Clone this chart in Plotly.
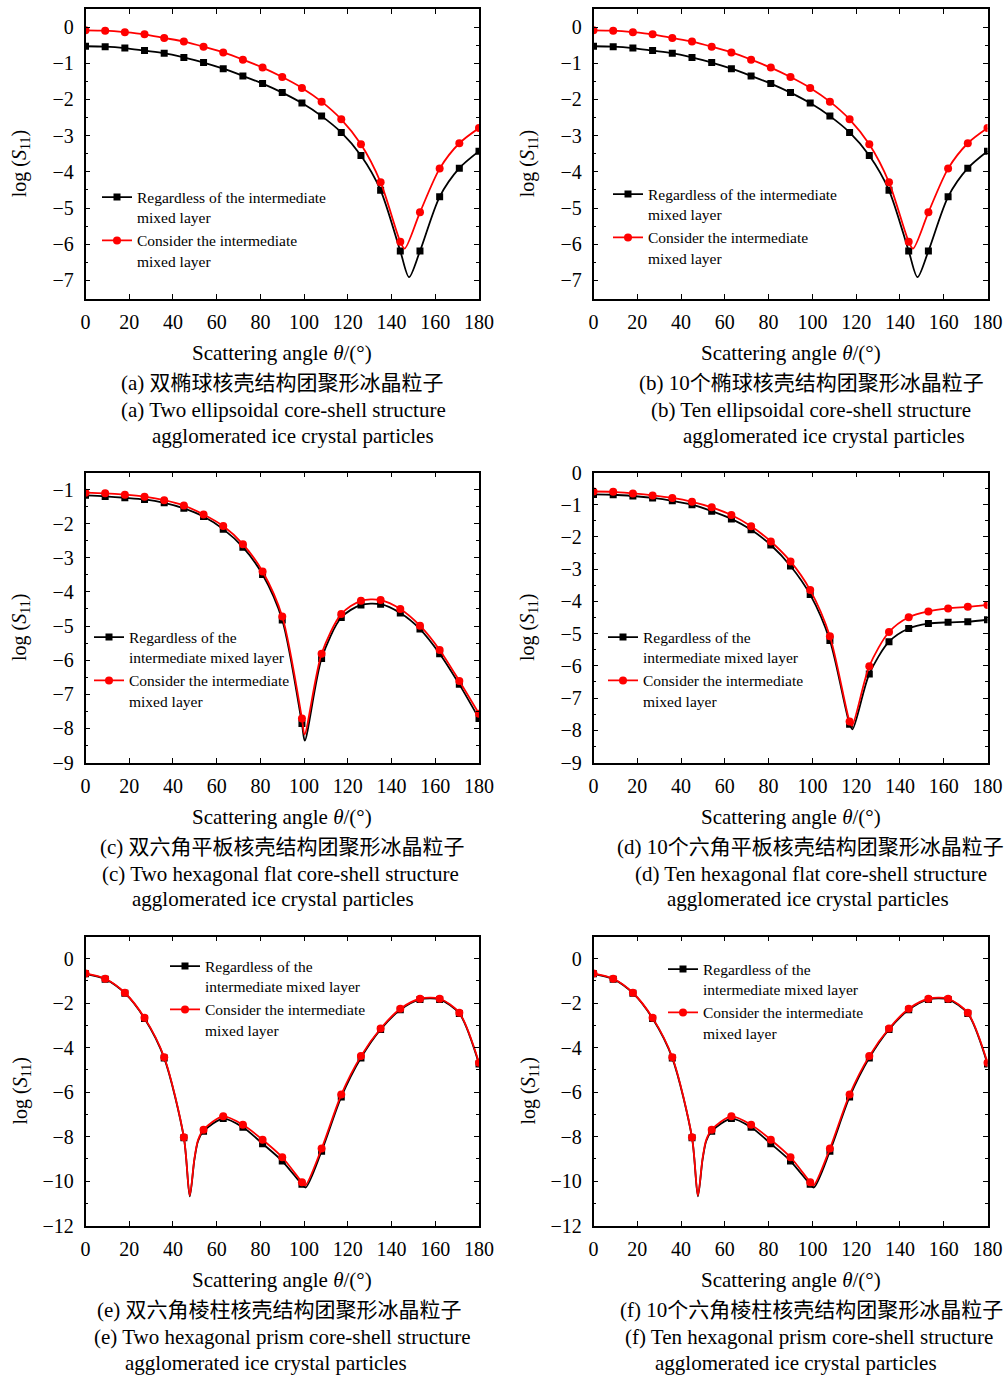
import plotly.graph_objects as go

W, H = 1008, 1381

# ---------------- data ----------------
ANGLES = [0, 9, 18, 27, 36, 45, 54, 63, 72, 81, 90, 99, 108, 117, 126, 135, 144, 153, 162, 171, 180]
X_TICKS = [0, 20, 40, 60, 80, 100, 120, 140, 160, 180]

# (a) two ellipsoidal
black_a = [-0.53, -0.54, -0.58, -0.65, -0.72, -0.84, -0.98, -1.15, -1.35, -1.56, -1.81,
           -2.10, -2.46, -2.91, -3.55, -4.51, -6.19, -6.19, -4.69, -3.90, -3.43]
red_a = [-0.09, -0.10, -0.14, -0.20, -0.30, -0.40, -0.54, -0.70, -0.90, -1.12, -1.38,
         -1.68, -2.06, -2.55, -3.24, -4.29, -5.93, -5.12, -3.91, -3.21, -2.79]
black_a_dip_x, black_a_dip_y = [148.0], [-6.91]
red_a_dip_x, red_a_dip_y = [146.0], [-6.12]

# (b) ten ellipsoidal
black_b = [-0.53, -0.54, -0.58, -0.65, -0.72, -0.84, -0.98, -1.15, -1.35, -1.56, -1.81,
           -2.10, -2.46, -2.91, -3.55, -4.51, -6.19, -6.19, -4.69, -3.90, -3.43]
red_b = [-0.09, -0.10, -0.14, -0.20, -0.30, -0.40, -0.54, -0.70, -0.90, -1.12, -1.38,
         -1.68, -2.06, -2.55, -3.24, -4.29, -5.93, -5.12, -3.91, -3.21, -2.79]
black_b_dip_x, black_b_dip_y = [148.0], [-6.91]
red_b_dip_x, red_b_dip_y = [146.0], [-6.12]

# (c) two hexagonal flat
black_c = [-1.17, -1.20, -1.24, -1.29, -1.39, -1.55, -1.79, -2.16, -2.69, -3.49, -4.82,
           -7.86, -5.95, -4.75, -4.38, -4.36, -4.62, -5.09, -5.81, -6.71, -7.71]
red_c = [-1.09, -1.11, -1.15, -1.21, -1.31, -1.47, -1.73, -2.07, -2.60, -3.40, -4.72,
         -7.71, -5.81, -4.65, -4.26, -4.24, -4.50, -4.99, -5.70, -6.61, -7.57]
black_c_dip_x, black_c_dip_y = [100.3], [-8.36]
red_c_dip_x, red_c_dip_y = [100.2], [-8.18]

# (d) ten hexagonal flat
black_d = [-0.68, -0.69, -0.73, -0.79, -0.88, -1.00, -1.20, -1.44, -1.78, -2.25, -2.90,
           -3.79, -5.21, -7.81, -6.25, -5.25, -4.84, -4.69, -4.65, -4.63, -4.57]
red_d = [-0.59, -0.60, -0.65, -0.71, -0.79, -0.91, -1.08, -1.32, -1.67, -2.14, -2.76,
         -3.65, -5.08, -7.73, -6.01, -4.95, -4.49, -4.31, -4.22, -4.17, -4.11]
black_d_dip_x, black_d_dip_y = [118.3], [-7.97]
red_d_dip_x, red_d_dip_y = [118.1], [-7.86]

# (e) two hexagonal prism
black_e = [-0.68, -0.92, -1.55, -2.69, -4.47, -8.05, -7.76, -7.19, -7.58, -8.32, -9.10,
           -10.15, -8.66, -6.22, -4.46, -3.18, -2.30, -1.83, -1.83, -2.46, -4.73]
red_e = [-0.66, -0.90, -1.53, -2.66, -4.43, -8.03, -7.69, -7.09, -7.47, -8.14, -8.93,
         -10.05, -8.54, -6.11, -4.38, -3.14, -2.25, -1.80, -1.80, -2.43, -4.68]
black_e_dip_x, black_e_dip_y = [47.7, 49.8, 51.5, 100.7], [-10.69, -9.05, -8.2, -10.29]
red_e_dip_x, red_e_dip_y = [47.7, 49.8, 51.5, 100.5], [-10.65, -9.0, -8.15, -10.2]

# (f) ten hexagonal prism
black_f = [-0.68, -0.92, -1.55, -2.69, -4.47, -8.05, -7.76, -7.19, -7.58, -8.32, -9.10,
           -10.15, -8.66, -6.22, -4.46, -3.18, -2.30, -1.83, -1.83, -2.46, -4.73]
red_f = [-0.66, -0.90, -1.53, -2.66, -4.43, -8.03, -7.69, -7.09, -7.47, -8.14, -8.93,
         -10.05, -8.54, -6.11, -4.38, -3.14, -2.25, -1.80, -1.80, -2.43, -4.68]
black_f_dip_x, black_f_dip_y = [47.7, 49.8, 51.5, 100.7], [-10.69, -9.05, -8.2, -10.29]
red_f_dip_x, red_f_dip_y = [47.7, 49.8, 51.5, 100.5], [-10.65, -9.0, -8.15, -10.2]

CAPTIONS_CN = ["(a) 双椭球核壳结构团聚形冰晶粒子", "(b) 10个椭球核壳结构团聚形冰晶粒子",
               "(c) 双六角平板核壳结构团聚形冰晶粒子", "(d) 10个六角平板核壳结构团聚形冰晶粒子",
               "(e) 双六角棱柱核壳结构团聚形冰晶粒子", "(f) 10个六角棱柱核壳结构团聚形冰晶粒子"]
CAPTIONS_EN1 = ["(a) Two ellipsoidal core-shell structure", "(b) Ten ellipsoidal core-shell structure",
                "(c) Two hexagonal flat core-shell structure", "(d) Ten hexagonal flat core-shell structure",
                "(e) Two hexagonal prism core-shell structure", "(f) Ten hexagonal prism core-shell structure"]
CAPTION_EN2 = "agglomerated ice crystal particles"
NAME_BLACK_WIDE = "Regardless of the intermediate<br>mixed layer"
NAME_BLACK_NARROW = "Regardless of the<br>intermediate mixed layer"
NAME_RED = "Consider the intermediate<br>mixed layer"
X_TITLE = "Scattering angle <i>θ</i>/(°)"
Y_TITLE = "log (<i>S</i><sub>11</sub>)"

# ---------------- layout geometry ----------------
FONT = "Liberation Serif, Times New Roman, Noto Sans CJK SC, serif"
COLS = [(85.5, 479.0), (593.5, 987.5)]
ROWS = [(9.0, 298.5), (472.5, 762.5), (936.5, 1225.5)]
CAPTION_CX = [(282, 283, 293), (811, 811, 824), (282, 280, 273), (810, 811, 808), (279, 282, 266), (811, 809, 796)]
XTITLE_CX = [282, 791]

panels = [
    dict(black=black_a, red=red_a, bdx=black_a_dip_x, bdy=black_a_dip_y, rdx=red_a_dip_x, rdy=red_a_dip_y,
         yr=[-7.5, 0.5], dt=1, mdt=0.5, bname=NAME_BLACK_WIDE, leg=(100, 198)),
    dict(black=black_b, red=red_b, bdx=black_b_dip_x, bdy=black_b_dip_y, rdx=red_b_dip_x, rdy=red_b_dip_y,
         yr=[-7.5, 0.5], dt=1, mdt=0.5, bname=NAME_BLACK_WIDE, leg=(611, 195)),
    dict(black=black_c, red=red_c, bdx=black_c_dip_x, bdy=black_c_dip_y, rdx=red_c_dip_x, rdy=red_c_dip_y,
         yr=[-9, -0.5], dt=1, mdt=0.5, bname=NAME_BLACK_NARROW, leg=(92, 638)),
    dict(black=black_d, red=red_d, bdx=black_d_dip_x, bdy=black_d_dip_y, rdx=red_d_dip_x, rdy=red_d_dip_y,
         yr=[-9, 0], dt=1, mdt=0.5, bname=NAME_BLACK_NARROW, leg=(606, 638)),
    dict(black=black_e, red=red_e, bdx=black_e_dip_x, bdy=black_e_dip_y, rdx=red_e_dip_x, rdy=red_e_dip_y,
         yr=[-12, 1], dt=2, mdt=1, bname=NAME_BLACK_NARROW, leg=(168, 967)),
    dict(black=black_f, red=red_f, bdx=black_f_dip_x, bdy=black_f_dip_y, rdx=red_f_dip_x, rdy=red_f_dip_y,
         yr=[-12, 1], dt=2, mdt=1, bname=NAME_BLACK_NARROW, leg=(666, 970)),
]

fig = go.Figure()
layout = dict(width=W, height=H, margin=dict(l=0, r=0, t=0, b=0, autoexpand=False),
              paper_bgcolor="white", plot_bgcolor="white", template="none",
              font=dict(family=FONT, size=20, color="black"), showlegend=True)
annotations = []


def merged(xs, ys, dx, dy):
    pts = sorted(list(zip(xs, ys)) + list(zip(dx, dy)))
    return [p[0] for p in pts], [p[1] for p in pts]


for i, p in enumerate(panels):
    r, c = divmod(i, 2)
    x0, x1 = COLS[c]
    y0, y1 = ROWS[r]
    k = "" if i == 0 else str(i + 1)
    xa, ya = "x" + k, "y" + k
    leg = "legend" + k
    for series, dx, dy, color, sym, size, name in [
        (p["black"], p["bdx"], p["bdy"], "black", "square", 7, p["bname"]),
        (p["red"], p["rdx"], p["rdy"], "#ff0000", "circle", 8, NAME_RED),
    ]:
        lx, ly = merged(ANGLES, series, dx, dy)
        fig.add_trace(go.Scatter(x=lx, y=ly, mode="lines", line=dict(color=color, width=1.8, shape="spline", smoothing=0.8),
                                 xaxis=xa, yaxis=ya, showlegend=False, hoverinfo="skip"))
        fig.add_trace(go.Scatter(x=ANGLES, y=series, mode="markers", marker=dict(color=color, symbol=sym, size=size),
                                 xaxis=xa, yaxis=ya, showlegend=False))
        fig.add_trace(go.Scatter(x=[None], y=[None], mode="lines+markers", name=name,
                                 line=dict(color=color, width=1.8), marker=dict(color=color, symbol=sym, size=size),
                                 xaxis=xa, yaxis=ya, legend=leg, showlegend=True))
    axcommon = dict(showline=True, linecolor="black", linewidth=1.5, mirror="ticks", ticks="inside",
                    ticklen=5, tickwidth=1.2, tickcolor="black", showgrid=False, zeroline=False,
                    automargin=False, tickfont=dict(size=20, family=FONT))
    layout["xaxis" + k] = dict(domain=[x0 / W, x1 / W], range=[0, 180], tickvals=X_TICKS, anchor=ya,
                               ticklabelstandoff=5, **axcommon)
    layout["yaxis" + k] = dict(domain=[1 - y1 / H, 1 - y0 / H], range=p["yr"], dtick=p["dt"], tick0=0,
                               anchor=xa, ticklabelstandoff=6,
                               minor=dict(dtick=p["mdt"], ticks="inside", ticklen=3, tickcolor="black", showgrid=False),
                               **axcommon)
    lx0, ly0 = p["leg"]
    layout[leg] = dict(x=(lx0 - 3) / W, y=1 - (ly0 - 17.5) / H, xanchor="left", yanchor="top",
                       bgcolor="rgba(0,0,0,0)", font=dict(size=15.5, family=FONT), valign="top",
                       tracegroupgap=0, itemwidth=30)
    # axis titles
    annotations.append(dict(text=X_TITLE, x=XTITLE_CX[c] / W, y=1 - (y1 + 54) / H, xref="paper", yref="paper",
                            showarrow=False, font=dict(size=21), xanchor="center", yanchor="middle"))
    annotations.append(dict(text=Y_TITLE, x=(x0 - 65) / W, y=1 - ((y0 + y1) / 2 + 10) / H, xref="paper", yref="paper",
                            showarrow=False, font=dict(size=20), textangle=-90, xanchor="center", yanchor="middle"))
    # captions
    for dy_, txt, cxp in [(84, CAPTIONS_CN[i], CAPTION_CX[i][0]), (111, CAPTIONS_EN1[i], CAPTION_CX[i][1]),
                          (137, CAPTION_EN2, CAPTION_CX[i][2])]:
        annotations.append(dict(text=txt, x=cxp / W, y=1 - (y1 + dy_) / H, xref="paper", yref="paper",
                                showarrow=False, font=dict(size=21), xanchor="center", yanchor="middle"))

layout["annotations"] = annotations
fig.update_layout(**layout)
fig.write_html("out.html", config={"displayModeBar": False, "staticPlot": False},
               post_script="document.body.style.margin='0px';document.body.style.overflow='hidden';")
